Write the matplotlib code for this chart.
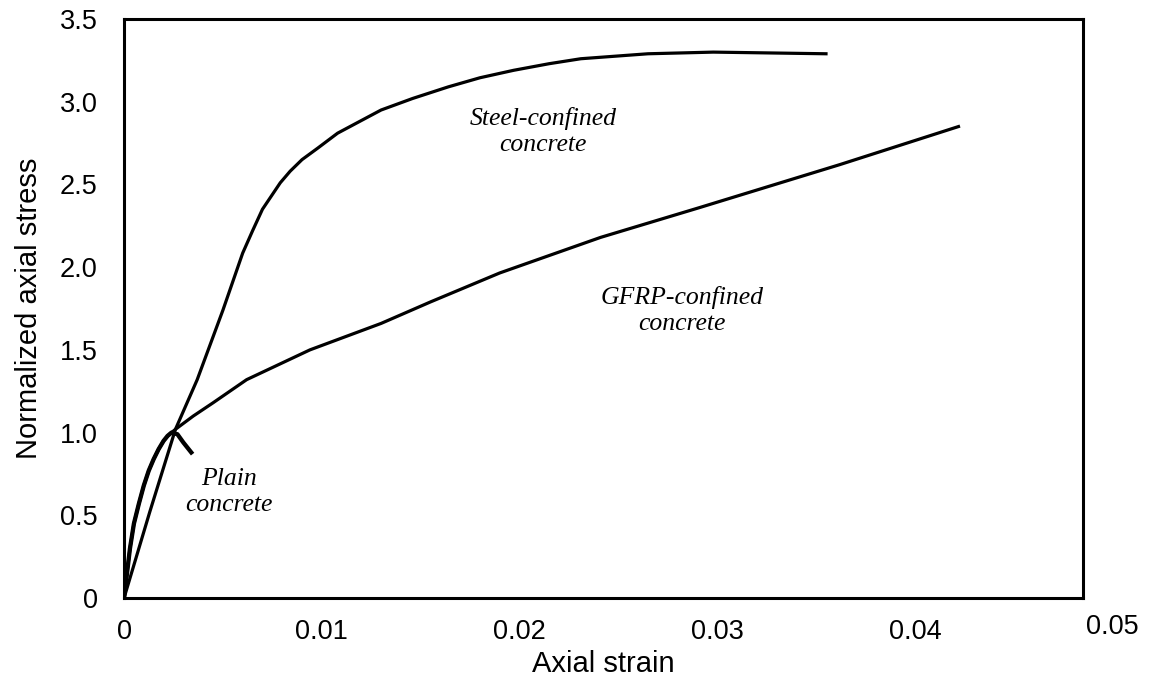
import matplotlib
matplotlib.use('Agg')
import matplotlib.pyplot as plt
from matplotlib.transforms import blended_transform_factory

# stress-strain curves
plain_strain = [0, 0.00015, 0.0003, 0.0005, 0.00075, 0.001, 0.00125, 0.0015,
                0.00175, 0.002, 0.0022, 0.0024, 0.0027, 0.0030, 0.0034]
plain_stress = [0, 0.15, 0.30, 0.45, 0.57, 0.68, 0.77, 0.84,
                0.90, 0.95, 0.98, 1.0, 0.99, 0.94, 0.88]

gfrp_strain = [0, 0.00015, 0.0003, 0.0005, 0.00075, 0.001, 0.00125, 0.0015,
               0.00175, 0.002, 0.0023, 0.0026, 0.0035, 0.0045, 0.0062,
               0.0094, 0.0130, 0.0155, 0.0190, 0.0241, 0.0291, 0.0362, 0.0422]
gfrp_stress = [0, 0.15, 0.30, 0.45, 0.57, 0.68, 0.77, 0.84,
               0.90, 0.95, 0.99, 1.02, 1.10, 1.18, 1.32,
               1.50, 1.66, 1.79, 1.965, 2.18, 2.36, 2.62, 2.85]

steel_strain = [0, 0.0013, 0.0026, 0.0037, 0.0050, 0.0060, 0.0065, 0.0070, 0.0079,
                0.0084, 0.0090, 0.0098, 0.0108, 0.0119, 0.0130, 0.0146, 0.0164,
                0.0180, 0.0197, 0.0215, 0.0231, 0.0265, 0.0298, 0.0355]
steel_stress = [0, 0.52, 1.02, 1.32, 1.74, 2.085, 2.22, 2.35, 2.51,
                2.58, 2.65, 2.72, 2.81, 2.88, 2.95, 3.02, 3.09,
                3.145, 3.19, 3.23, 3.26, 3.29, 3.30, 3.29]

x_ticks = [0, 0.01, 0.02, 0.03, 0.04]
x_labels = ['0', '0.01', '0.02', '0.03', '0.04']
y_ticks = [0, 0.5, 1.0, 1.5, 2.0, 2.5, 3.0, 3.5]
y_labels = ['0', '0.5', '1.0', '1.5', '2.0', '2.5', '3.0', '3.5']

plt.rcParams['font.family'] = ['Liberation Sans', 'DejaVu Sans']

fig = plt.figure(figsize=(11.56, 6.92), dpi=100)
ax = fig.add_axes([0.1073, 0.1358, 0.8296, 0.8367])

lw = 2.3
ax.plot(plain_strain, plain_stress, color='black', lw=lw + 0.8, solid_joinstyle='round')
ax.plot(gfrp_strain, gfrp_stress, color='black', lw=lw, solid_joinstyle='round')
ax.plot(steel_strain, steel_stress, color='black', lw=lw, solid_joinstyle='round')

ax.set_xlim(0, 0.0485)
ax.set_ylim(0, 3.5)
ax.set_xticks(x_ticks)
ax.set_xticklabels(x_labels)
ax.set_yticks(y_ticks)
ax.set_yticklabels(y_labels)
ax.tick_params(length=0, labelsize=19.5)
ax.tick_params(axis='x', pad=15)
ax.tick_params(axis='y', pad=19)

# last x label sits past the frame in the original
trans = blended_transform_factory(ax.transData, ax.transAxes)
ax.text(0.05, -0.028, '0.05', transform=trans, ha='center', va='top',
        fontsize=19.5, clip_on=False)

for sp in ax.spines.values():
    sp.set_linewidth(2.2)

ax.set_xlabel('Axial strain', fontsize=21, labelpad=4)
ax.set_ylabel('Normalized axial stress', fontsize=21, labelpad=12)

note = dict(fontsize=18.5, style='italic', family='Liberation Serif', ha='center', va='center')
ax.text(0.0212, 2.82, 'Steel-confined\nconcrete', linespacing=1.25, **note)
ax.text(0.0282, 1.74, 'GFRP-confined\nconcrete', linespacing=1.25, **note)
ax.text(0.0053, 0.64, 'Plain\nconcrete', linespacing=1.25, **note)

fig.savefig('out.png', dpi=100)
